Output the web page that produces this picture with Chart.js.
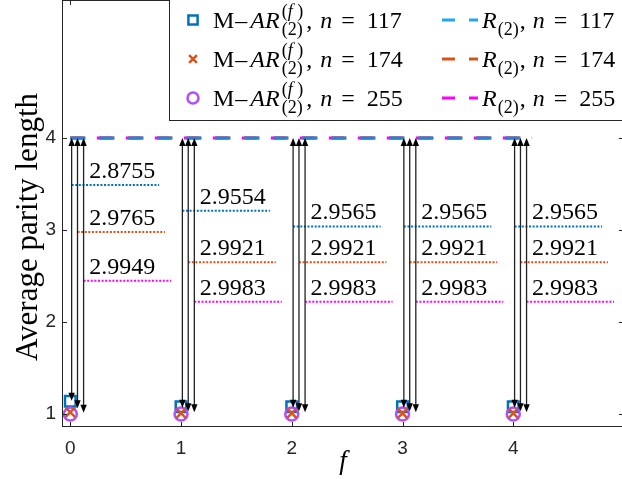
<!DOCTYPE html>
<html>
<head>
<meta charset="utf-8">
<script src="https://cdn.jsdelivr.net/npm/chart.js@4.4.0/dist/chart.umd.min.js"></script>
<style>
  html, body { margin: 0; padding: 0; overflow: hidden; background: #ffffff; }
</style>
</head>
<body>
<canvas id="parityChart" width="640" height="479"></canvas>
<script>
// x axis: f
const fValues = [0, 1, 2, 3, 4];
const xTicks = [0, 1, 2, 3, 4];
const yTicks = [1, 2, 3, 4];
const blockSizes = [117, 174, 255];

// M-AR(f)(2) average parity length
const marN117 = [1.14, 1.08, 1.08, 1.08, 1.08];
const marN174 = [1.02, 1.01, 1.01, 1.01, 1.01];
const marN255 = [1.00, 1.00, 1.00, 1.00, 1.00];

// R(2) average parity length (flat line)
const rLineX = [0, 4.17];
const rN117 = [4, 4];
const rN174 = [4, 4];
const rN255 = [4, 4];

// Differences written next to the arrows
const gapN117 = [2.8755, 2.9554, 2.9565, 2.9565, 2.9565];
const gapN174 = [2.9765, 2.9921, 2.9921, 2.9921, 2.9921];
const gapN255 = [2.9949, 2.9983, 2.9983, 2.9983, 2.9983];

// Height of the dotted marker under each difference label
const labelYN117 = [3.49, 3.21, 3.04, 3.04, 3.04];
const labelYN174 = [2.98, 2.65, 2.65, 2.65, 2.65];
const labelYN255 = [2.45, 2.22, 2.22, 2.22, 2.22];

// Lower end of each arrow (upper end is the R(2) line)
const arrowLowN117 = [1.145, 1.07, 1.07, 1.07, 1.07];
const arrowLowN174 = [1.065, 1.03, 1.03, 1.03, 1.03];
const arrowLowN255 = [1.015, 1.02, 1.02, 1.02, 1.02];

// ---- styling ----
const SERIF = '"Liberation Serif", "Times New Roman", serif';
const SANS = '"Liberation Sans", Arial, sans-serif';
const AXIS_COLOR = '#262626';
const markerColors = ['#0072BD', '#D95319', '#B14CFF'];
const rColors = ['#1f86d8', '#D95319', '#FF00FF'];
const rLegendColors = ['#22a5f2', '#D95319', '#FF00FF'];
const dotColors = ['#0072BD', '#D95319', '#FF00FF'];
const shift = [0.012, 0.065, 0.12];   // sideways offset of each series' arrow / dotted mark
const dotLength = 0.79;

const marSeries = [marN117, marN174, marN255];
const rSeries = [rN117, rN174, rN255];
const gapSeries = [gapN117, gapN174, gapN255];
const labelYSeries = [labelYN117, labelYN174, labelYN255];
const arrowLowSeries = [arrowLowN117, arrowLowN174, arrowLowN255];

const datasets = [];

// R(2) dashed lines (blue ends up on top, magenta peeks out to the left)
[0, 1, 2].forEach(i => {
    datasets.push({
        label: 'R(2), n = ' + blockSizes[i],
        data: rLineX.map((x, k) => ({ x: x, y: rSeries[i][k] })),
        showLine: true,
        borderColor: rColors[i],
        borderWidth: 3,
        borderDash: [15, 14],
        borderDashOffset: i === 2 ? 2.5 : 0,
        pointRadius: 0,
        order: 10 + i
    });
});

// dotted marks under the difference labels
fValues.forEach((f, k) => {
    [0, 1, 2].forEach(i => {
        datasets.push({
            label: 'mark',
            data: [
                { x: f + shift[i], y: labelYSeries[i][k] },
                { x: f + shift[i] + dotLength, y: labelYSeries[i][k] }
            ],
            showLine: true,
            borderColor: dotColors[i],
            borderWidth: 2,
            borderDash: [2, 1.6],
            pointRadius: 0,
            order: 8
        });
    });
});

// M-AR markers
const markerStyles = ['rect', 'crossRot', 'circle'];
const markerRadius = [7.5, 6.5, 6.5];
[0, 1, 2].forEach(i => {
    datasets.push({
        label: 'M-AR, n = ' + blockSizes[i],
        data: fValues.map((f, k) => ({ x: f, y: marSeries[i][k] })),
        pointStyle: markerStyles[i],
        pointRadius: markerRadius[i],
        pointBorderColor: markerColors[i],
        pointBackgroundColor: 'rgba(0,0,0,0)',
        pointBorderWidth: 2.5,
        order: [3, 1, 2][i]
    });
});

// draw a double-headed vertical arrow
function drawArrow(ctx, x, yTop, yLow) {
    ctx.save();
    ctx.strokeStyle = '#222222';
    ctx.fillStyle = '#000000';
    ctx.lineWidth = 1.3;
    ctx.beginPath();
    ctx.moveTo(x, yTop + 6);
    ctx.lineTo(x, yLow - 6);
    ctx.stroke();
    [[yTop, 1], [yLow, -1]].forEach(([tip, dir]) => {
        ctx.beginPath();
        ctx.moveTo(x, tip);
        ctx.lineTo(x - 3.2, tip + dir * 8);
        ctx.lineTo(x + 3.2, tip + dir * 8);
        ctx.closePath();
        ctx.fill();
    });
    ctx.restore();
}

// draw text made of pieces (font switches, sup/sub stacks)
function drawPieces(ctx, x, y, pieces) {
    pieces.forEach(p => {
        if (p.stack) {
            let w = 0;
            p.stack.forEach(part => {
                let xx = x;
                part.items.forEach(it => {
                    ctx.font = it.font;
                    ctx.fillText(it.text, xx, y + part.dy);
                    xx += ctx.measureText(it.text).width;
                });
                w = Math.max(w, xx - x);
            });
            x += w + (p.after || 0);
        } else {
            ctx.font = p.font;
            ctx.fillText(p.text, x, y);
            x += ctx.measureText(p.text).width + (p.after || 0);
        }
    });
    return x;
}

const F_MAIN = '24px ' + SERIF;
const F_IT = 'italic 24px ' + SERIF;
const F_SM = '18px ' + SERIF;
const F_SMIT = 'italic 18px ' + SERIF;

function tailPieces(n, commaGap) {
    return [
        { text: ',', font: F_MAIN, after: commaGap },
        { text: 'n', font: F_IT, after: 9 },
        { text: '=', font: F_MAIN, after: 12 },
        { text: String(n), font: F_MAIN }
    ];
}

function marLabel(n) {
    return [
        { text: 'M', font: F_MAIN, after: 1 },
        { text: '\u2013', font: F_MAIN, after: 3 },
        { text: 'AR', font: F_IT, after: 2 },
        { stack: [
            { dy: -11, items: [{ text: '(', font: F_SM }, { text: 'f', font: F_SMIT }, { text: ' )', font: F_SM }] },
            { dy: 7, items: [{ text: '(2)', font: F_SM }] }
        ], after: 3 }
    ].concat(tailPieces(n, 8));
}

function rLabel(n) {
    return [
        { text: 'R', font: F_IT, after: 1 },
        { stack: [{ dy: 7, items: [{ text: '(2)', font: F_SM }] }], after: 1 }
    ].concat(tailPieces(n, 7));
}

const overlayPlugin = {
    id: 'overlay',
    afterDatasetsDraw(chart) {
        const ctx = chart.ctx;
        const xs = chart.scales.x;
        const ys = chart.scales.y;
        const area = chart.chartArea;

        // arrows between the markers and the R(2) line
        fValues.forEach((f, k) => {
            [0, 1, 2].forEach(i => {
                const px = xs.getPixelForValue(f + shift[i]);
                drawArrow(ctx, px, ys.getPixelForValue(rSeries[i][0]), ys.getPixelForValue(arrowLowSeries[i][k]));
            });
        });

        // difference labels
        ctx.save();
        ctx.fillStyle = '#000000';
        ctx.font = '24px ' + SERIF;
        ctx.textBaseline = 'alphabetic';
        fValues.forEach((f, k) => {
            [0, 1, 2].forEach(i => {
                const px = xs.getPixelForValue(f + 0.17);
                const py = ys.getPixelForValue(labelYSeries[i][k]) - 7;
                ctx.fillText(gapSeries[i][k].toFixed(4), px, py);
            });
        });
        ctx.restore();

        // axes box with inward ticks
        ctx.save();
        ctx.strokeStyle = AXIS_COLOR;
        ctx.lineWidth = 1;
        ctx.strokeRect(area.left + 0.5, area.top + 0.5, area.right - area.left - 1, area.bottom - area.top - 1);
        ctx.beginPath();
        yTicks.forEach(v => {
            const py = Math.round(ys.getPixelForValue(v)) + 0.5;
            ctx.moveTo(area.left, py); ctx.lineTo(area.left + 5, py);
            ctx.moveTo(area.right, py); ctx.lineTo(area.right - 5, py);
        });
        xTicks.forEach(v => {
            const px = Math.round(xs.getPixelForValue(v)) + 0.5;
            ctx.moveTo(px, area.bottom); ctx.lineTo(px, area.bottom - 5);
            ctx.moveTo(px, area.top); ctx.lineTo(px, area.top + 5);
        });
        ctx.stroke();
        ctx.restore();
    },
    afterDraw(chart) {
        const ctx = chart.ctx;
        ctx.save();

        // y axis title (a bit below the centre of the axis, as in the figure)
        ctx.save();
        ctx.translate(29, 227);
        ctx.rotate(-Math.PI / 2);
        ctx.fillStyle = '#000000';
        ctx.font = '31px ' + SERIF;
        ctx.textAlign = 'center';
        ctx.textBaseline = 'middle';
        ctx.fillText('Average parity length', 0, 0);
        ctx.restore();

        // legend box (two columns)
        ctx.fillStyle = '#ffffff';
        ctx.fillRect(169.5, -1, 500, 121.5);
        ctx.strokeStyle = AXIS_COLOR;
        ctx.lineWidth = 1;
        ctx.strokeRect(169.5, -1, 500, 121.5);

        const rowY = [20, 59, 98];
        blockSizes.forEach((n, i) => {
            const cy = rowY[i];
            // marker sample
            ctx.strokeStyle = markerColors[i];
            ctx.fillStyle = 'rgba(0,0,0,0)';
            ctx.lineWidth = 2.5;
            Chart.helpers.drawPoint(ctx, { pointStyle: markerStyles[i], radius: markerRadius[i] - 1, borderWidth: 2.5 }, 193, cy);
            ctx.fillStyle = '#000000';
            ctx.textBaseline = 'alphabetic';
            drawPieces(ctx, 213, cy + 8, marLabel(n));

            // line sample
            ctx.strokeStyle = rLegendColors[i];
            ctx.lineWidth = 3;
            ctx.setLineDash([13, 14]);
            ctx.beginPath();
            ctx.moveTo(442, cy);
            ctx.lineTo(478, cy);
            ctx.stroke();
            ctx.setLineDash([]);
            drawPieces(ctx, 482, cy + 8, rLabel(n));
        });
        ctx.restore();
    }
};

new Chart(document.getElementById('parityChart'), {
    type: 'scatter',
    data: { datasets: datasets },
    options: {
        responsive: false,
        animation: false,
        layout: { autoPadding: false, padding: { left: 0, right: 16, top: 0, bottom: 0 } },
        plugins: {
            legend: { display: false },
            tooltip: { enabled: false }
        },
        scales: {
            x: {
                type: 'linear',
                min: -0.075,
                max: 5,
                afterBuildTicks: (scale) => { scale.ticks = xTicks.map(v => ({ value: v })); },
                afterFit: (scale) => { scale.height = 52; scale.paddingLeft = 0; scale.paddingRight = 0; },
                grid: { display: false, drawTicks: false },
                border: { display: false },
                ticks: {
                    padding: 10,
                    color: AXIS_COLOR,
                    font: { family: SANS, size: 19 },
                    maxRotation: 0
                },
                title: {
                    display: true,
                    text: 'f',
                    color: '#000000',
                    font: { family: SERIF, size: 27, style: 'italic', lineHeight: 1 },
                    padding: { top: 0, bottom: 4 }
                }
            },
            y: {
                type: 'linear',
                min: 0.86,
                max: 5.5,
                afterBuildTicks: (scale) => { scale.ticks = yTicks.map(v => ({ value: v })); },
                afterFit: (scale) => { scale.width = 62; scale.paddingTop = 0; scale.paddingBottom = 0; },
                grid: { display: false, drawTicks: false },
                border: { display: false },
                ticks: {
                    padding: 6,
                    color: AXIS_COLOR,
                    font: { family: SANS, size: 19 }
                }
            }
        }
    },
    plugins: [overlayPlugin]
});
</script>
</body>
</html>
